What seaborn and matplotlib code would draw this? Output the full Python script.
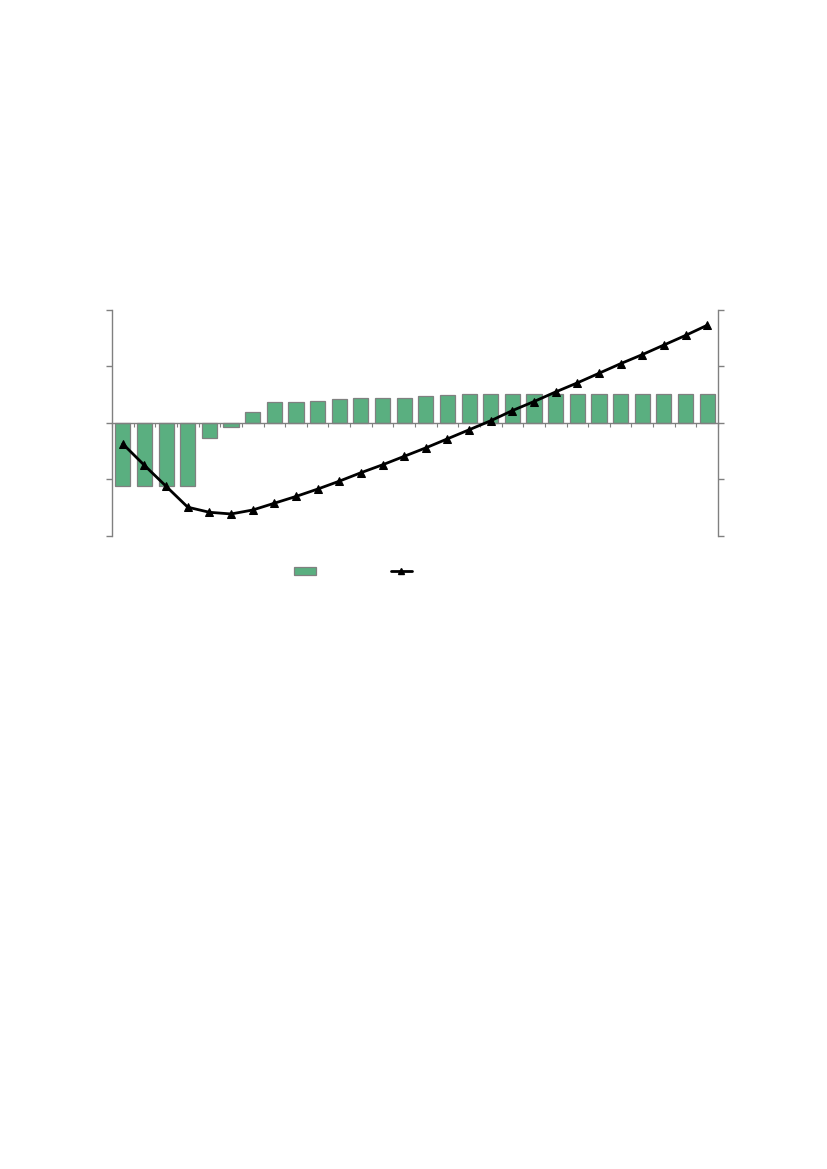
import matplotlib

matplotlib.use("Agg")
import matplotlib.pyplot as plt
import numpy as np
import pandas as pd
import seaborn as sns
from matplotlib.lines import Line2D
from matplotlib.patches import Patch

# values (no text labels are shown in it)
periods = list(range(1, 29))
bar_values = [
    -1.12, -1.12, -1.12, -1.12, -0.27, -0.07, 0.19, 0.37, 0.37, 0.39,
    0.42, 0.44, 0.44, 0.44, 0.48, 0.50, 0.51, 0.51, 0.51, 0.51,
    0.51, 0.51, 0.51, 0.51, 0.51, 0.51, 0.51, 0.51,
]
line_values = [
    -0.37, -0.75, -1.12, -1.49, -1.58, -1.61, -1.54, -1.42, -1.30, -1.17,
    -1.03, -0.88, -0.74, -0.59, -0.44, -0.28, -0.12, 0.04, 0.22, 0.38,
    0.55, 0.71, 0.88, 1.05, 1.21, 1.38, 1.55, 1.73,
]
y_ticks = [-2, -1, 0, 1, 2]

BAR_COLOR = "#5aaf80"
EDGE_GRAY = "#808080"

sns.set_theme(style="white")

df = pd.DataFrame({"period": periods, "bar": bar_values, "line": line_values})

W, H = 827, 1169
fig = plt.figure(figsize=(W / 100, H / 100), dpi=100)
left, right, top, bottom = 112, 718, 310, 536
ax = fig.add_axes([left / W, 1 - bottom / H, (right - left) / W, (bottom - top) / H])

sns.barplot(
    data=df, x="period", y="bar", native_scale=True, color=BAR_COLOR,
    saturation=1, width=0.7, edgecolor=EDGE_GRAY, linewidth=0.9, ax=ax,
)
ax.set_xlim(0.5, 28.5)
ax.set_ylim(-2, 2)
ax.set_yticks(y_ticks)
ax.set_yticklabels([])
ax.set_xticks(np.arange(0.5, 29, 1))
ax.set_xticklabels([])
ax.set_xlabel("")
ax.set_ylabel("")
for side in ["top", "right"]:
    ax.spines[side].set_visible(False)
ax.spines["bottom"].set_position(("data", 0))
for side in ["left", "bottom"]:
    ax.spines[side].set_color(EDGE_GRAY)
    ax.spines[side].set_linewidth(1.0)
ax.tick_params(axis="y", left=True, direction="out", length=4, color=EDGE_GRAY, width=1)
ax.tick_params(axis="x", bottom=True, direction="out", length=3, color=EDGE_GRAY, width=0.8)

ax2 = ax.twinx()
sns.lineplot(
    data=df, x="period", y="line", color="black", linewidth=2,
    marker="^", markersize=6, markeredgecolor="black", ax=ax2,
)
ax2.set_ylim(-2, 2)
ax2.set_yticks(y_ticks)
ax2.set_yticklabels([])
ax2.set_xlim(0.5, 28.5)
ax2.set_ylabel("")
ax2.set_xlabel("")
for side in ["top", "left", "bottom"]:
    ax2.spines[side].set_visible(False)
ax2.spines["right"].set_color(EDGE_GRAY)
ax2.spines["right"].set_linewidth(1.0)
ax2.tick_params(axis="y", right=True, direction="out", length=4, color=EDGE_GRAY, width=1)

handles = [
    Patch(facecolor=BAR_COLOR, edgecolor=EDGE_GRAY, linewidth=0.9),
    Line2D([], [], color="black", linewidth=2, marker="^", markersize=5),
]
fig.legend(
    handles, ["", ""], loc="center", bbox_to_anchor=(353 / W, 1 - 572 / H),
    ncol=2, frameon=False, handlelength=1.55, handletextpad=0,
    columnspacing=5.4, fontsize=10, handleheight=0.55,
)

fig.savefig("out.png", dpi=100)
